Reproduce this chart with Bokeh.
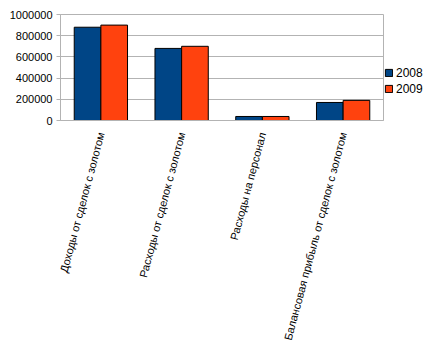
from bokeh.plotting import figure
from bokeh.models import ColumnDataSource, FactorRange, Legend, LegendItem, BasicTickFormatter, FixedTicker
from bokeh.transform import dodge
from bokeh.layouts import row
from bokeh.embed import file_html
from bokeh.resources import INLINE
import math

categories = ["Доходы от сделок с золотом", "Расходы от сделок с золотом",
              "Расходы на персонал", "Балансовая прибыль от сделок с золотом"]
years = ["2008", "2009"]
v2008 = [880000, 680000, 38000, 170000]
v2009 = [900000, 700000, 38000, 190000]
y_ticks = [0, 200000, 400000, 600000, 800000, 1000000]

colors = {"2008": "#004586", "2009": "#ff420e"}

src = ColumnDataSource(dict(cat=categories, y2008=v2008, y2009=v2009))

p = figure(width=384, height=345, x_range=FactorRange(*categories, range_padding=0),
           y_range=(0, 1000000), output_backend="svg", toolbar_location=None,
           min_border_left=60, min_border_right=1, min_border_top=14, min_border_bottom=224)
p.outline_line_color = "#b3b3b3"
p.background_fill_color = "white"
p.border_fill_color = "white"

bw = 0.33
r1 = p.vbar(x=dodge("cat", -bw / 2, range=p.x_range), top="y2008", width=bw, source=src,
            fill_color=colors["2008"], line_color="black", line_width=1)
r2 = p.vbar(x=dodge("cat", bw / 2, range=p.x_range), top="y2009", width=bw, source=src,
            fill_color=colors["2009"], line_color="black", line_width=1)

p.yaxis.ticker = FixedTicker(ticks=y_ticks)
p.yaxis.formatter = BasicTickFormatter(use_scientific=False)
p.yaxis.major_label_text_font = "Liberation Sans"
p.yaxis.major_label_text_font_size = "11px"
p.yaxis.major_label_text_color = "black"
p.yaxis.axis_line_color = "#b3b3b3"
p.yaxis.major_tick_line_color = "#b3b3b3"
p.yaxis.major_tick_in = 0
p.yaxis.major_tick_out = 4
p.yaxis.minor_tick_line_color = None
p.yaxis.major_label_standoff = 4

p.xaxis.major_label_orientation = math.radians(75)
p.xaxis.major_label_text_font = "Liberation Sans"
p.xaxis.major_label_text_font_size = "11px"
p.xaxis.major_label_text_color = "black"
p.xaxis.axis_line_color = "#b3b3b3"
p.xaxis.major_tick_line_color = None
p.xaxis.major_label_standoff = 6

p.xgrid.grid_line_color = None
p.ygrid.grid_line_color = "#b3b3b3"
p.ygrid.ticker = FixedTicker(ticks=y_ticks)

# legend panel
pl = figure(width=50, height=162, output_backend="svg", toolbar_location=None,
            min_border=0, x_range=(0, 1), y_range=(0, 1))
pl.axis.visible = False
pl.grid.visible = False
pl.outline_line_color = None
pl.background_fill_color = "white"
pl.border_fill_color = "white"
nan = float("nan")
e = ColumnDataSource(dict(x=[nan], top=[nan]))
l1 = pl.vbar(x="x", top="top", width=0.1, source=e, fill_color=colors["2008"], line_color="black")
l2 = pl.vbar(x="x", top="top", width=0.1, source=e, fill_color=colors["2009"], line_color="black")

legend = Legend(items=[LegendItem(label=years[0], renderers=[l1]),
                       LegendItem(label=years[1], renderers=[l2])],
                location="center_left", orientation="vertical")
legend.border_line_alpha = 0
legend.background_fill_alpha = 0
legend.glyph_width = 9
legend.glyph_height = 9
legend.label_text_font = "Liberation Sans"
legend.label_text_font_size = "12px"
legend.label_text_color = "black"
legend.label_standoff = 3
legend.spacing = 2
legend.padding = 0
legend.margin = 0
legend.label_height = 14
pl.add_layout(legend, "center")

layout = row(p, pl, spacing=0)
open("out.html", "w").write(file_html(layout, INLINE))
